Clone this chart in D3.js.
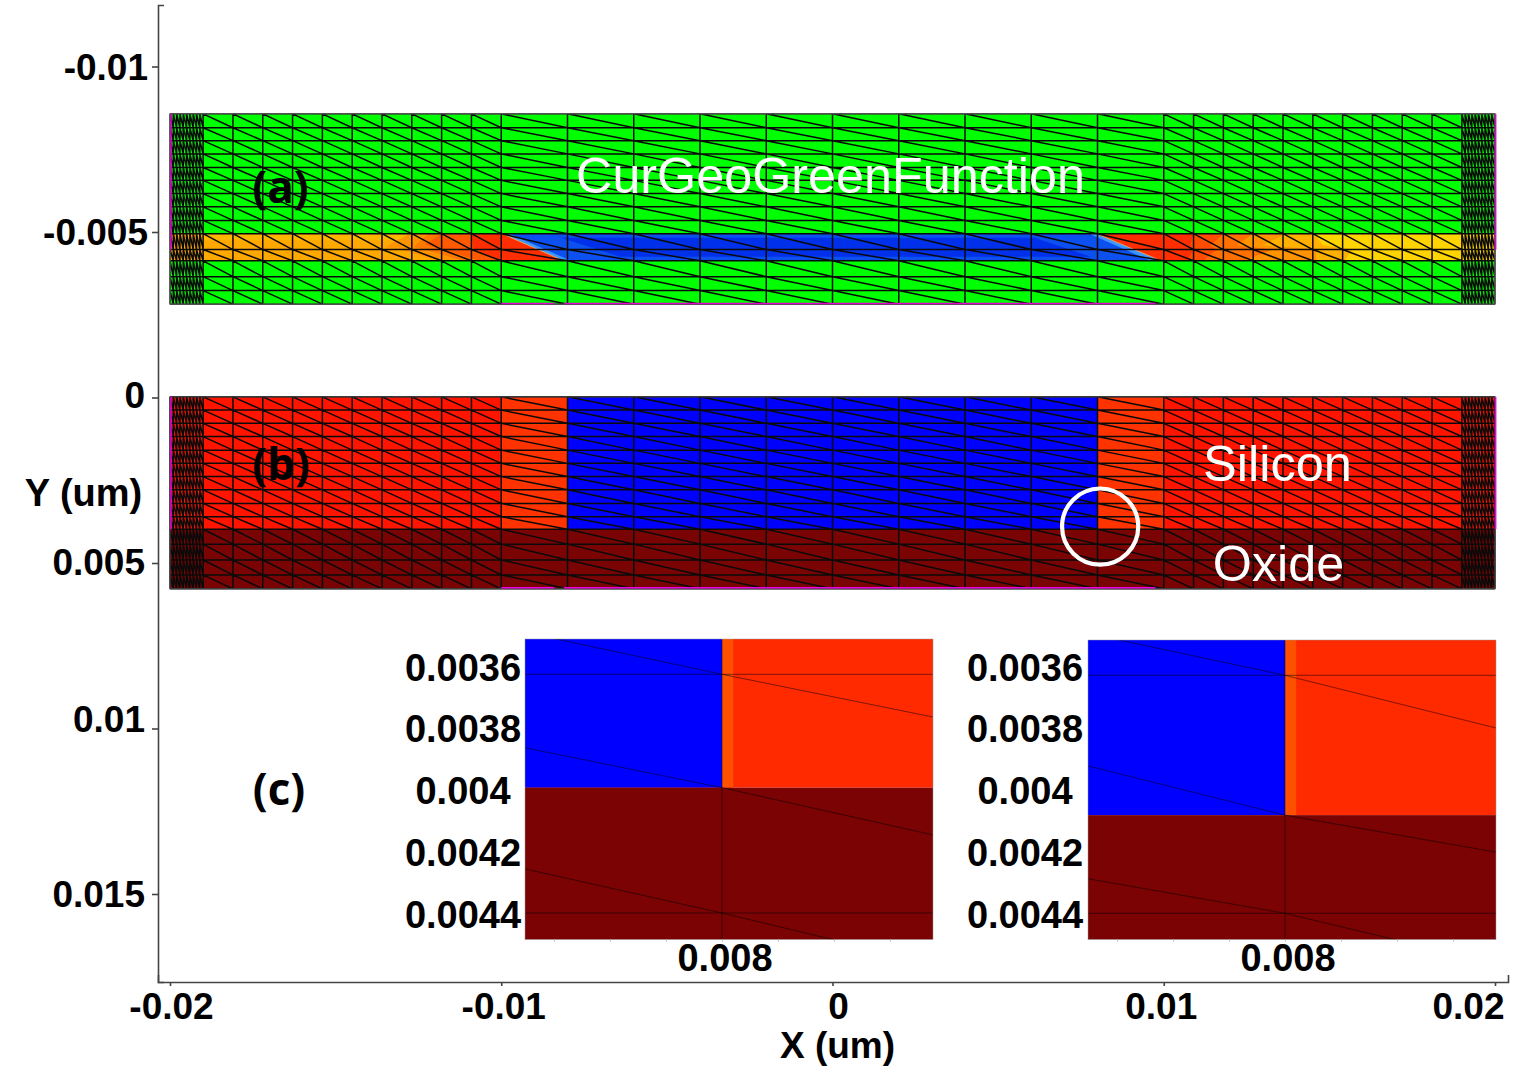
<!DOCTYPE html>
<html><head><meta charset="utf-8">
<style>html,body{margin:0;padding:0;background:#fff}svg{display:block}
.tick text,.lbl{font-family:"Liberation Sans",Arial,sans-serif;font-weight:700;fill:#000}
</style>
<script src="https://cdnjs.cloudflare.com/ajax/libs/d3/7.8.5/d3.min.js"></script>
</head><body><svg id="c" width="1529" height="1090"></svg>
<script>
// ---- data (micrometres) ----
const xTicks=[-0.02,-0.01,0,0.01,0.02];
const xTickLabels=["-0.02","-0.01","0","0.01","0.02"];
const yTicks=[-0.01,-0.005,0,0.005,0.01,0.015];
const yTickLabels=["-0.01","-0.005","0","0.005","0.01","0.015"];
const meshX=[-0.02,-0.0199,-0.0198,-0.0197,-0.0196,-0.0195,-0.0194,-0.0193,-0.0192,-0.0191,-0.019,
 -0.0181,-0.0172,-0.0163,-0.0154,-0.0145,-0.0136,-0.0127,-0.0118,-0.0109,-0.01,
 -0.008,-0.006,-0.004,-0.002,0,0.002,0.004,0.006,0.008,0.01,
 0.0109,0.0118,0.0127,0.0136,0.0145,0.0154,0.0163,0.0172,0.0181,0.019,
 0.0191,0.0192,0.0193,0.0194,0.0195,0.0196,0.0197,0.0198,0.0199,0.02];
const meshYa=[-0.00857,-0.00815,-0.00776,-0.00736,-0.00695,-0.00656,-0.00616,-0.00576,-0.00535,-0.00495,-0.00447,-0.00413,-0.00365,-0.00323,-0.00282];
const meshYb=[-0.00002,0.00038,0.00078,0.00118,0.00159,0.00199,0.00239,0.00279,0.0032,0.0036,0.00398,0.00443,0.00491,0.00536,0.00578];
const bandTop=-0.00495, bandMid=-0.00455, bandBot=-0.00413;
const leftContours=[
 [[-0.01275,bandTop],[-0.01351,bandMid],[-0.01306,-0.00447],[-0.01185,bandBot]],
 [[-0.0122,bandTop],[-0.01265,bandMid],[-0.0123,-0.00447],[-0.01118,bandBot]],
 [[-0.0118,bandTop],[-0.0123,-0.00462],[-0.0118,-0.00447],[-0.01064,bandBot]],
 [[-0.01088,bandTop],[-0.01085,bandMid],[-0.0108,-0.00447],[-0.00995,bandBot]]];
const rightContours=[
 [[0.01455,bandTop],[0.01480,-0.0046],[0.0157,-0.00447],[0.01545,bandBot]],
 [[0.0137,bandTop],[0.0130,-0.0046],[0.0146,-0.00447],[0.0146,bandBot]],
 [[0.0127,bandTop],[0.0122,-0.0046],[0.0133,-0.00447],[0.0124,bandBot]],
 [[0.0118,bandTop],[0.0114,-0.0046],[0.0116,-0.00447],[0.0112,bandBot]],
 [[0.0109,bandTop],[0.0108,-0.0046],[0.0109,-0.00447],[0.0107,bandBot]]];
const channelLayers=[
 [[-0.01,bandTop],[0.008,bandTop],[0.00995,bandBot],[-0.00815,bandBot]],
 [[-0.00994,bandTop],[0.00794,bandTop],[0.00989,bandBot],[-0.00809,bandBot]],
 [[-0.00975,bandTop],[0.00775,bandTop],[0.0096,bandBot],[-0.0079,bandBot]],
 [[-0.0082,-0.00483],[0.0061,-0.00483],[0.0078,-0.00425],[-0.0064,-0.00425]]];
const oxideTop=0.00398, channelLeft=-0.008, channelRight=0.008, siliconEdge=0.01;
const edgeA=[[-0.01997,-0.00857],[-0.01997,-0.00447]], edgeARight=[[0.02002,-0.00857],[0.02002,-0.00447]];
const edgeB=[[-0.01997,-0.00002],[-0.01997,0.00398]], edgeBRight=[[0.02002,-0.00002],[0.02002,0.00398]];
const gateA=[[-0.01,-0.00284],[-0.0084,-0.00284]], gateA2=[[-0.0081,-0.00284],[0.00975,-0.00284]];
const gateB=[[-0.01,0.00575],[-0.0084,0.00575]], gateB2=[[-0.0081,0.00575],[0.00975,0.00575]];
const circleCentre=[0.00808,0.0039];
const insetRows1=[0.0032,0.0036,0.00398,0.0044,0.00485];
const insetRows2=[0.0032,0.0036,0.00407,0.0044,0.00485];
const insetNodes=[0.006,0.008,0.01];
const insetYTicks=[0.0036,0.0038,0.004,0.0042,0.0044];
const insetYLabels=["0.0036","0.0038","0.004","0.0042","0.0044"];
const insetMinor=[0.0074,0.0076,0.0078,0.008,0.0082,0.0084,0.0086];

// ---- scales ----
const svg=d3.select("#c");
const x=d3.scaleLinear().domain([-0.02,0.02]).range([170,1495]);
const y=d3.scaleLinear().domain([0,0.005]).range([397.5,563]);
const xAxisScale=x.copy().domain([x.invert(158),x.invert(1508)]).range([158,1508]);
const yAxisScale=y.copy().domain([y.invert(5),y.invert(982)]).range([5,982]);
const poly=(g,pts,fill,sx=x,sy=y)=>g.append("path").attr("fill",fill)
   .attr("d",d3.line().x(d=>sx(d[0])).y(d=>sy(d[1]))(pts)+"Z");
const rect=(g,x0,x1,y0,y1,fill,sx=x,sy=y)=>g.append("rect").attr("x",sx(x0)).attr("y",sy(y0))
   .attr("width",sx(x1)-sx(x0)).attr("height",sy(y1)-sy(y0)).attr("fill",fill);
const polyline=(g,pts,col,w)=>g.append("path").attr("fill","none").attr("stroke",col).attr("stroke-width",w)
   .attr("d",d3.line().x(d=>x(d[0])).y(d=>y(d[1]))(pts));
function mesh(g,xs,ys){
  const p=d3.path();
  xs.forEach(v=>{p.moveTo(x(v),y(ys[0]));p.lineTo(x(v),y(ys[ys.length-1]));});
  ys.forEach(v=>{p.moveTo(x(xs[0]),y(v));p.lineTo(x(xs[xs.length-1]),y(v));});
  for(let i=0;i<xs.length-1;i++)for(let j=0;j<ys.length-1;j++){
    p.moveTo(x(xs[i]),y(ys[j]));p.lineTo(x(xs[i+1]),y(ys[j+1]));}
  g.append("path").attr("d",p.toString()).attr("fill","none").attr("stroke","#0a0a0a").attr("stroke-width",1.5);
}
// ---- panel (a) ----
const A=svg.append("g");
const aT=meshYa[0],aB=meshYa[meshYa.length-1];
rect(A,-0.02,0.02,aT,aB,"#00ff00");
const lOrange=["#ff9400","#ff7800","#ff5a00","#ff2e00"];
rect(A,-0.02,-0.005,bandTop,bandBot,"#ffa800");
rect(A,-0.019,-0.0118,bandTop,-0.00475,"#ffb400");
leftContours.forEach((c,i)=>poly(A,[...c,[-0.005,bandBot],[-0.005,bandTop]],lOrange[i]));
rect(A,0.005,0.02,bandTop,bandBot,"#ffd400");
const rOrange=["#ffb000","#ff9400","#ff7000","#ff4c00","#ff2e00"];
rightContours.forEach((c,i)=>poly(A,[...c,[0.005,bandBot],[0.005,bandTop]],rOrange[i]));
["#f0a860","#3c98ff","#0c50f0","#0030ea"].forEach((f,i)=>poly(A,channelLayers[i],f));
mesh(A,meshX,meshYa);
A.append("rect").attr("x",x(-0.02)).attr("y",y(aT)).attr("width",x(0.02)-x(-0.02)).attr("height",y(aB)-y(aT))
  .attr("fill","none").attr("stroke","#777").attr("stroke-width",1);
[edgeA,edgeARight,gateA,gateA2].forEach(e=>polyline(A,e,"#e000d0",1.5));
// ---- panel (b) ----
const B=svg.append("g");
const bT=meshYb[0],bB=meshYb[meshYb.length-1];
rect(B,-0.02,0.02,bT,oxideTop,"#ff1400");
rect(B,-0.01,siliconEdge,bT,oxideTop,"#ff3300");
rect(B,channelLeft,channelRight,bT,oxideTop,"#0000ff");
rect(B,-0.02,0.02,oxideTop,bB,"#7a0404");
mesh(B,meshX,meshYb);
B.append("rect").attr("x",x(-0.02)).attr("y",y(bT)).attr("width",x(0.02)-x(-0.02)).attr("height",y(bB)-y(bT))
  .attr("fill","none").attr("stroke","#555").attr("stroke-width",1);
[edgeB,edgeBRight,gateB,gateB2].forEach(e=>polyline(B,e,"#f000e0",1.5));
svg.append("circle").attr("cx",x(circleCentre[0])).attr("cy",y(circleCentre[1])).attr("r",x(0.00115)-x(0))
  .attr("fill","none").attr("stroke","#fff").attr("stroke-width",4.2);
// ---- main axes ----
const ax=svg.append("g").attr("transform","translate(0,982)")
  .call(d3.axisBottom(xAxisScale).tickValues(xTicks).tickFormat((d,i)=>xTickLabels[i]).tickSize(4).tickSizeOuter(-7).tickPadding(7));
const ay=svg.append("g").attr("transform","translate(158,0)")
  .call(d3.axisLeft(yAxisScale).tickValues(yTicks).tickFormat((d,i)=>yTickLabels[i]).tickSize(6).tickSizeOuter(-6).tickPadding(4));
[ax,ay].forEach(a=>{a.selectAll("path,line").attr("stroke","#444").attr("stroke-width",1.6);
   a.selectAll("text").style("font-size","37px");});
const xNudge=[1,2,5.5,-3,-27], yNudgeX=[0,0,-3,-3,-3,-3], yNudgeY=[1,0.5,-1.5,-0.5,-9,0.5];
ax.selectAll(".tick text").attr("dx",(d,i)=>xNudge[i]);
ay.selectAll(".tick text").attr("transform",(d,i)=>`translate(${yNudgeX[i]},${yNudgeY[i]})`);
// ---- insets ----
function inset(x0,top,bottom,rows,yA,yB,labelCentre,xLabel){
  const g=svg.append("g");
  const sx=d3.scaleLinear().domain([0.008,0.0082]).range([x0+197,x0+197+56]);
  const sy=d3.scaleLinear().domain([0.0036,0.0044]).range([yA,yB]);
  const L=sx.invert(x0),R=sx.invert(x0+408),T=sy.invert(top),Bt=sy.invert(bottom),ox=rows[2];
  rect(g,L,R,T,ox,"#ff2a00",sx,sy);
  rect(g,L,0.008,T,ox,"#0000ff",sx,sy);
  rect(g,0.008,0.00804,T,ox,"#ff5000",sx,sy);
  rect(g,L,R,ox,Bt,"#7b0303",sx,sy);
  const id="clip"+x0;
  svg.append("clipPath").attr("id",id).append("rect").attr("x",x0).attr("y",top).attr("width",408).attr("height",bottom-top);
  const p=d3.path();
  [0.0036,0.0044].forEach(v=>{p.moveTo(sx(L),sy(v));p.lineTo(sx(R),sy(v));});
  p.moveTo(sx(0.008),sy(T));p.lineTo(sx(0.008),sy(Bt));
  for(let i=0;i<insetNodes.length-1;i++)for(let j=0;j<rows.length-1;j++){
    p.moveTo(sx(insetNodes[i]),sy(rows[j]));p.lineTo(sx(insetNodes[i+1]),sy(rows[j+1]));}
  g.append("path").attr("d",p.toString()).attr("clip-path",`url(#${id})`).attr("fill","none")
   .attr("stroke","#000").attr("stroke-opacity",0.5).attr("stroke-width",1);
  g.append("rect").attr("x",x0).attr("y",top).attr("width",408).attr("height",bottom-top).attr("fill","none").attr("stroke","#999").attr("stroke-opacity",.6).attr("stroke-width",.8);
  const t=svg.append("g").attr("transform",`translate(0,${bottom})`)
    .call(d3.axisBottom(sx).tickValues(insetMinor).tickFormat("").tickSize(2).tickSizeOuter(0));
  t.select(".domain").remove(); t.selectAll("line").attr("stroke","#bbb");
  const ly=d3.scaleLinear().domain([0.0036,0.0044]).range([667,914]);
  svg.append("g").selectAll("text").data(insetYTicks).join("text").attr("class","lbl")
    .attr("x",labelCentre).attr("y",d=>ly(d)).attr("text-anchor","middle").attr("dy","0.36em")
    .style("font-size","38px").text((d,i)=>insetYLabels[i]);
  svg.append("text").attr("class","lbl").attr("x",sx(0.008)+3).attr("y",957).attr("dy","0.36em")
    .attr("text-anchor","middle").style("font-size","38px").text(xLabel);
}
inset(525,639,939.5,insetRows1,674.3,913,463,"0.008");
inset(1088,640,939.5,insetRows2,675.3,913.3,1025,"0.008");
// ---- text ----
const T=(s,px,py,size,fam,wt,fill)=>svg.append("text").text(s).attr("x",px).attr("y",py).attr("dy","0.36em")
  .attr("text-anchor","middle").style("font-family",fam).style("font-weight",wt).style("font-size",size+"px").style("fill",fill);
const LS='"Liberation Sans",Arial,sans-serif', OS='"Open Sans",sans-serif';
T("CurGeoGreenFunction",830.5,175,50.3,LS,400,"#fff");
T("Silicon",1277.5,463,50.5,LS,400,"#fff");
T("Oxide",1278.5,563,50.3,LS,400,"#fff");
T("(a)",280.5,187,44,OS,700,"#000");
T("(b)",281,464,44,OS,700,"#000");
T("(c)",279,789,44,OS,700,"#000");
T("Y (um)",83.5,492,38,LS,700,"#000");
T("X (um)",837.5,1044.5,37,LS,700,"#000");
</script></body></html>
